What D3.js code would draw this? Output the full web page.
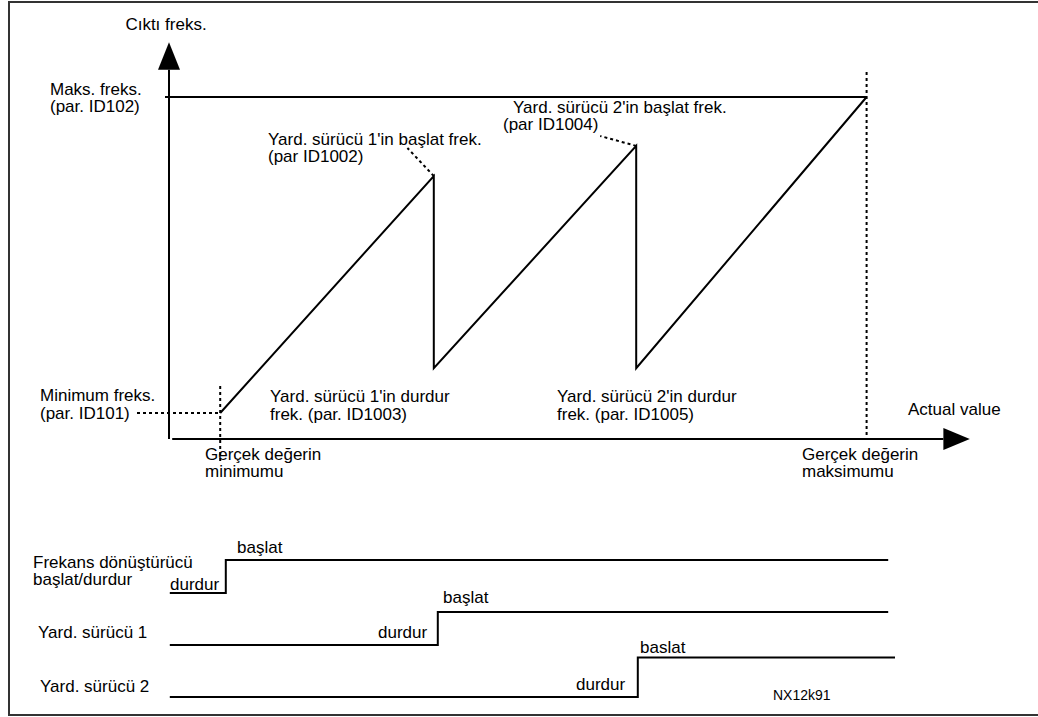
<!DOCTYPE html>
<html>
<head>
<meta charset="utf-8">
<script src="https://cdnjs.cloudflare.com/ajax/libs/d3/7.8.5/d3.min.js"></script>
<style>
  body { margin: 0; background: #fff; }
  svg text { font-family: "Liberation Sans", Arial, sans-serif; font-size: 17px; fill: #000; }
</style>
</head>
<body>
<div id="chart"></div>
<script>
// sawtooth: actual value (x) vs output frequency (y), both in % of scale
var actualValue = [6.4, 33.1, 33.1, 58.4, 58.4, 87.2];
var outputFreq  = [7.6, 76.9, 20.7, 85.7, 20.7, 100];

var minFreq = 7.6, maxFreq = 100;
var minActual = 6.4, maxActual = 87.2;

// leader lines from the start-freq peaks to their labels
var leaderFrom = [[33.1, 76.9], [58.4, 85.7]];
var leaderTo   = [[29.8, 85.1], [53.9, 88.6]];

// start/stop timing rows
var rowNames  = ["Frekans dönüştürücü", "Yard. sürücü 1", "Yard. sürücü 2"];
var rowStart  = [0.1, 0.1, 0.1];
var stepAt    = [7.1, 33.6, 58.6];
var rowEnd    = [89.9, 89.9, 90.75];
var onLevel   = [1, 1, 1.2];

var width = 1038, height = 717;

var svg = d3.select("#chart").append("svg")
    .attr("width", width)
    .attr("height", height);

// outer frame (right edge is cut off in the original)
svg.append("rect")
    .attr("x", 9).attr("y", 2)
    .attr("width", 1040).attr("height", 713)
    .style("fill", "none")
    .style("stroke", "#333")
    .style("stroke-width", 2);

var x = d3.scaleLinear().domain([0, 100]).range([169, 969]);
var y = d3.scaleLinear().domain([0, 100]).range([439, 97]);

var line = d3.line()
    .x(function(d) { return x(d[0]); })
    .y(function(d) { return y(d[1]); });

function seg(a, b, dashed) {
  var p = svg.append("path")
      .attr("d", line([a, b]))
      .style("fill", "none")
      .style("stroke", "#000")
      .style("stroke-width", 2);
  if (dashed) { p.style("stroke-dasharray", "3,3"); }
  return p;
}

// axes
seg([0, 0], [0, 108]);
seg([0.4, 0], [96.8, 0]);
svg.append("path")
    .attr("d", "M" + x(0) + "," + y(116) + "L" + (x(0) - 11) + "," + y(108) + "L" + (x(0) + 11) + "," + y(108) + "Z");
svg.append("path")
    .attr("d", "M" + x(100.1) + "," + y(0) + "L" + x(96.8) + "," + (y(0) - 11) + "L" + x(96.8) + "," + (y(0) + 11) + "Z");

// max freq line + guides
seg([-0.5, maxFreq], [maxActual, maxFreq]);
seg([maxActual, 107.3], [maxActual, 1.2], true);
seg([-4, minFreq], [minActual, minFreq], true);
seg([minActual, 15.5], [minActual, -6.7], true);

// sawtooth
svg.append("path")
    .datum(d3.zip(actualValue, outputFreq))
    .attr("d", line)
    .style("fill", "none")
    .style("stroke", "#000")
    .style("stroke-width", 2)
    .style("stroke-linejoin", "miter");

leaderFrom.forEach(function(d, i) { seg(d, leaderTo[i], true); });

function label(tx, ty, str, anchor) {
  svg.append("text")
      .attr("x", tx).attr("y", ty)
      .attr("text-anchor", anchor || "start")
      .text(str);
}

label(166, 30, "Cıktı freks.", "middle");
label(50, 95, "Maks. freks.");
label(50, 112, "(par. ID102)");
label(268, 145, "Yard. sürücü 1'in başlat frek.");
label(268, 162, "(par ID1002)");
label(513, 113, "Yard. sürücü 2'in başlat frek.");
label(503, 130, "(par ID1004)");
label(40, 401, "Minimum freks.");
label(40, 419, "(par. ID101)");
label(270, 402, "Yard. sürücü 1'in durdur");
label(270, 420, "frek. (par. ID1003)");
label(557, 402, "Yard. sürücü 2'in durdur");
label(557, 420, "frek. (par. ID1005)");
label(908, 415, "Actual value");
label(205, 460, "Gerçek değerin");
label(205, 477, "minimumu");
label(802, 460, "Gerçek değerin");
label(802, 477, "maksimumu");

// timing rows
var row = d3.scalePoint().domain(rowNames).range([593, 697]);
var level = d3.scaleLinear().domain([0, 1]).range([0, -33]);

rowNames.forEach(function(name, i) {
  var low = row(name), high = low + level(onLevel[i]);
  svg.append("path")
      .attr("d", "M" + x(rowStart[i]) + "," + low +
                 "L" + x(stepAt[i]) + "," + low +
                 "L" + x(stepAt[i]) + "," + high +
                 "L" + x(rowEnd[i]) + "," + high)
      .style("fill", "none")
      .style("stroke", "#000")
      .style("stroke-width", 2);
});

label(33, 568, "Frekans dönüştürücü");
label(33, 585, "başlat/durdur");
label(170, 590, "durdur");
label(237, 553, "başlat");
label(38, 638, "Yard. sürücü 1");
label(378, 638, "durdur");
label(443, 603, "başlat");
label(40, 692, "Yard. sürücü 2");
label(576, 690, "durdur");
label(640, 653, "baslat");

svg.append("text")
    .attr("x", 773).attr("y", 700)
    .style("font-size", "14px")
    .text("NX12k91");
</script>
</body>
</html>
